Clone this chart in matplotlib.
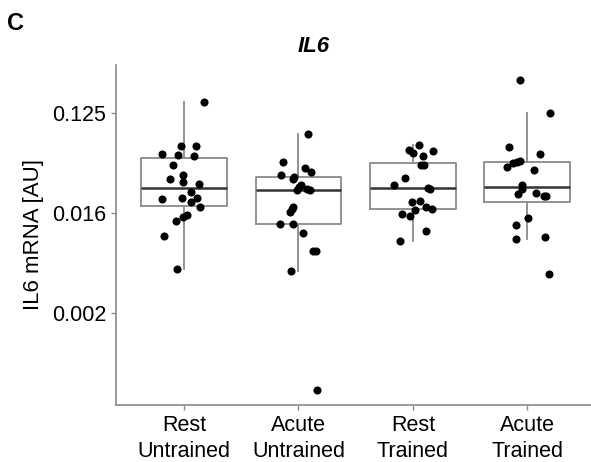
import numpy as np
import matplotlib.pyplot as plt
from matplotlib import cbook

plt.rcParams['font.family'] = ['Liberation Sans', 'DejaVu Sans']

groups = ['Rest\nUntrained', 'Acute\nUntrained', 'Rest\nTrained', 'Acute\nTrained']

# IL6 mRNA [AU]
rest_untrained = [0.1571, 0.0634, 0.0629, 0.0533, 0.0522, 0.0511, 0.0424, 0.0347,
                  0.0317, 0.0298, 0.0285, 0.0242, 0.0207, 0.0212, 0.0212, 0.0196,
                  0.0176, 0.0149, 0.0143, 0.0131, 0.0097, 0.00481]
acute_untrained = [0.0802, 0.0455, 0.0396, 0.0367, 0.0347, 0.0330, 0.0317, 0.0280,
                   0.0268, 0.0252, 0.0254, 0.0249, 0.0178, 0.0170, 0.0160, 0.0124,
                   0.0124, 0.0102, 0.00709, 0.00709, 0.00464, 0.000391]
rest_trained = [0.0638, 0.0575, 0.0548, 0.0571, 0.0511, 0.0421, 0.0421, 0.0326,
                0.0278, 0.0263, 0.0257, 0.0199, 0.0195, 0.0175, 0.0170, 0.0165,
                0.0153, 0.0147, 0.0108, 0.00867]
acute_trained = [0.2466, 0.125, 0.0612, 0.0537, 0.0464, 0.0442, 0.0448, 0.0407,
                 0.0385, 0.0278, 0.0259, 0.0230, 0.0234, 0.0220, 0.0220, 0.0140,
                 0.0120, 0.00910, 0.00942, 0.00434]

# horizontal jitter of each point (category units)
jit_rest_untrained = [0.178, -0.029, 0.108, -0.192, -0.050, 0.090, -0.093, -0.006,
                      -0.119, -0.006, 0.128, 0.064, -0.192, -0.017, 0.114, 0.061,
                      0.143, 0.029, -0.009, -0.067, -0.172, -0.061]
jit_acute_untrained = [0.085, -0.131, 0.061, 0.111, -0.152, -0.041, -0.050, 0.020,
                       0.003, -0.009, 0.073, 0.105, -0.044, -0.058, -0.070, -0.160,
                       -0.044, 0.041, 0.131, 0.152, -0.064, 0.166]
jit_rest_trained = [0.052, -0.035, 0.000, 0.178, 0.090, 0.073, 0.096, -0.070,
                    -0.169, 0.128, 0.152, 0.064, -0.009, 0.117, 0.166, 0.017,
                    -0.093, -0.023, 0.114, -0.117]
jit_acute_trained = [-0.064, 0.195, -0.157, 0.114, -0.067, -0.122, -0.093, -0.175,
                     0.061, -0.047, -0.050, -0.079, 0.079, 0.149, 0.166, 0.009,
                     -0.096, -0.102, 0.157, 0.186]

data = [rest_untrained, acute_untrained, rest_trained, acute_trained]
jitters = [jit_rest_untrained, jit_acute_untrained, jit_rest_trained, jit_acute_trained]

fig = plt.figure(figsize=(5.91, 4.62), dpi=100)
ax = fig.add_axes([116 / 591, 57 / 462, 475 / 591, 340 / 462])

# box stats on the log scale, like ggplot with a log y axis
stats = []
for vals in data:
    s = cbook.boxplot_stats(np.log2(vals), whis=1.5)[0]
    for k in ['med', 'q1', 'q3', 'whislo', 'whishi']:
        s[k] = 2 ** s[k]
    s['fliers'] = []
    stats.append(s)

pos = np.arange(1, 5)
ax.bxp(stats, positions=pos, widths=0.75, showcaps=False, showfliers=False,
       boxprops=dict(color='#8a8a8a', linewidth=1.3),
       whiskerprops=dict(color='#8a8a8a', linewidth=1.3),
       medianprops=dict(color='#333333', linewidth=1.8))

for i, (vals, jit) in enumerate(zip(data, jitters)):
    ax.scatter(pos[i] + np.array(jit), vals, s=34, color='black', zorder=3,
               linewidths=0)

ax.set_yscale('log', base=2)
ax.set_ylim(0.000284, 0.3405)
ax.set_xlim(0.406, 4.556)
ax.set_yticks([2 ** -9, 2 ** -6, 2 ** -3])
ax.set_yticklabels(['0.002', '0.016', '0.125'])
ax.yaxis.set_minor_locator(plt.NullLocator())
ax.set_xticks(pos)
ax.set_xticklabels(groups, linespacing=1.3)

for side in ['top', 'right']:
    ax.spines[side].set_visible(False)
for side in ['left', 'bottom']:
    ax.spines[side].set_color('#8a8a8a')
    ax.spines[side].set_linewidth(1.2)
ax.tick_params(colors='#8a8a8a', labelcolor='black', labelsize=15.5, length=3.5,
               width=1)
ax.tick_params(axis='x', pad=4)

ax.set_ylabel('IL6 mRNA [AU]', fontsize=16, labelpad=6)
fig.text(314 / 591, 1 - 46 / 462, 'IL6', fontsize=16, fontweight='bold',
         fontstyle='italic', ha='center', va='center')
fig.text(15 / 591, 1 - 24 / 462, 'C', fontsize=17, fontweight='bold',
         ha='center', va='center')

fig.savefig('out.png', dpi=100)
